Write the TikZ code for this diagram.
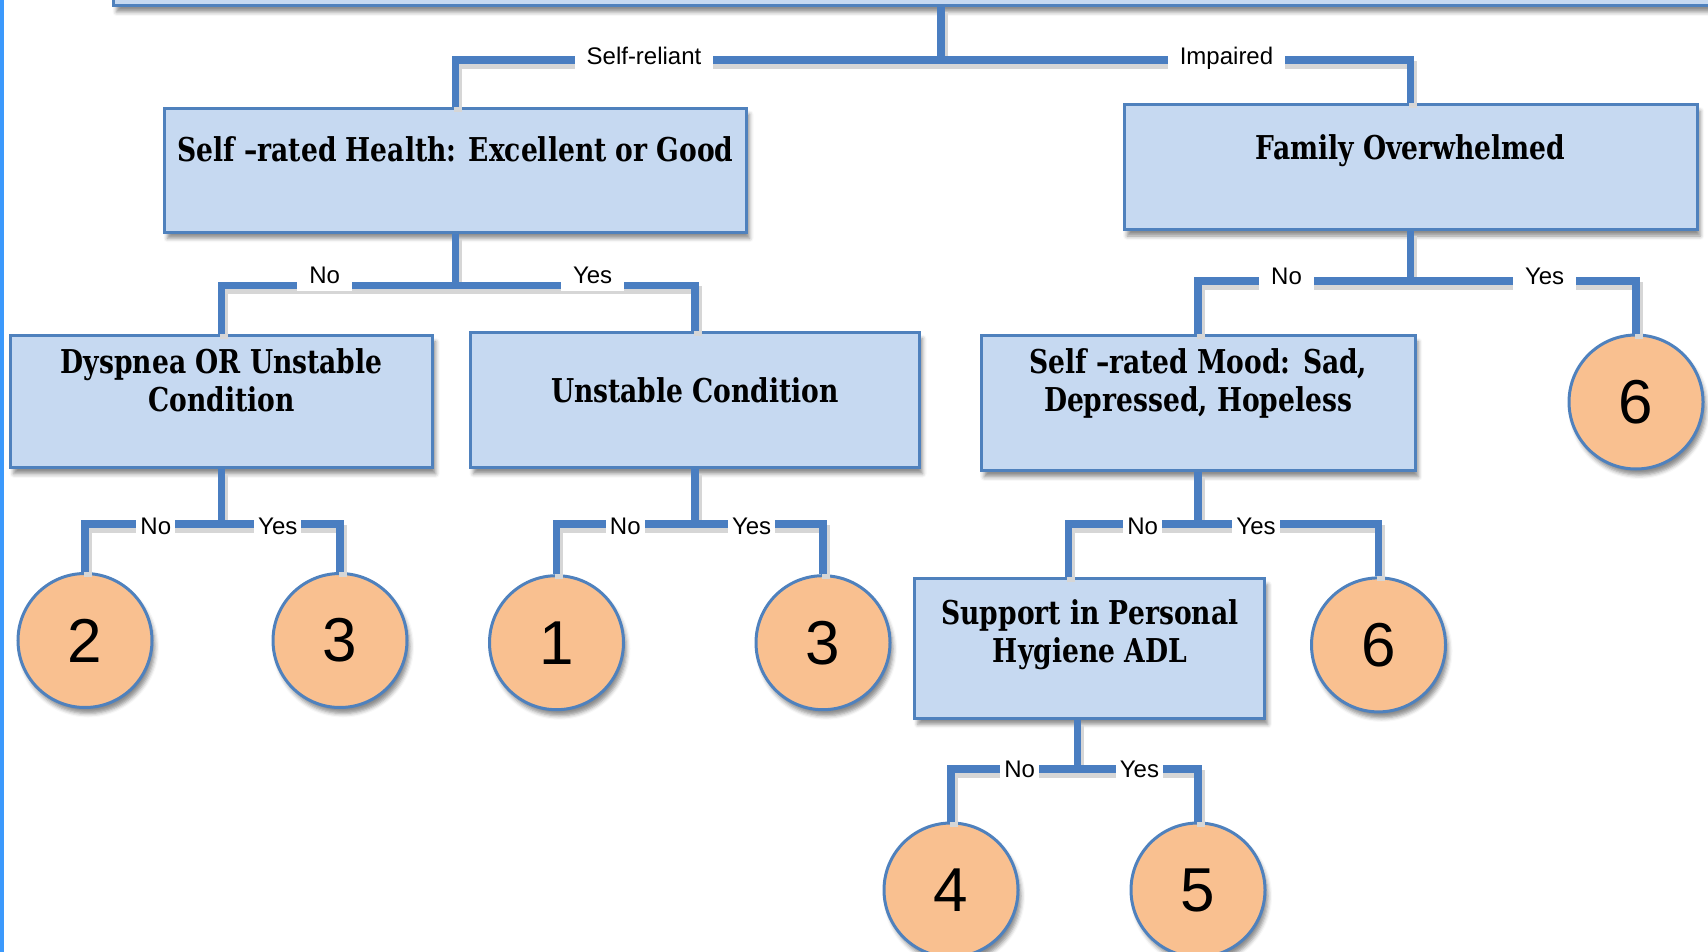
\documentclass[tikz,border=0pt]{standalone}
\usepackage{fontspec}
\setmainfont{Liberation Sans}
\newfontfamily\boxfont{DejaVu Serif Condensed}[FakeStretch=0.9]
\usetikzlibrary{positioning, calc, shadows, shadows.blur}
\definecolor{boxfill}{RGB}{198,217,241}
\definecolor{boxedge}{RGB}{79,129,189}
\definecolor{linkblue}{RGB}{74,126,193}
\definecolor{peach}{RGB}{249,192,144}
\definecolor{edgeblue}{RGB}{59,153,252}
\newcommand{\branch}[1]{\draw[linkshadow] #1; \draw[link] #1;}
\tikzset{
  block/.style={draw=boxedge, line width=3pt, fill=boxfill, inner sep=0pt,
    blur shadow={shadow xshift=3pt, shadow yshift=-6pt, shadow blur radius=4pt, shadow opacity=45}},
  boxtext/.style={font=\boxfont\bfseries\fontsize{32.8}{38}\selectfont, align=center, inner sep=0pt},
  leaf/.style={circle, draw=boxedge, line width=3pt, fill=peach, minimum size=134pt, inner sep=0pt,
    font=\fontsize{62}{62}\selectfont,
    blur shadow={shadow xshift=3pt, shadow yshift=-6pt, shadow blur radius=4pt, shadow opacity=45}},
  link/.style={draw=linkblue, line width=7.5pt},
  linkshadow/.style={draw=black!16, line width=8pt, transform canvas={shift={(2.5pt,-5pt)}}},
  answer/.style={fill=white, inner xsep=12pt, inner ysep=8pt, text height=17.5pt, text depth=0pt,
    font=\fontsize{24}{24}\selectfont},
  shortanswer/.style={answer, inner xsep=4pt}
}
\begin{document}
\begin{tikzpicture}[x=1pt, y=-1pt]
    \useasboundingbox (0,0) rectangle (1708,952);
    \clip (0,0) rectangle (1708,952);
    \fill[edgeblue] (0,0) rectangle (3.5,952);

    % question boxes
    \node[block, anchor=south west, minimum width=1700pt, minimum height=80pt] (root) at (112,7.5) {};
    \node[block, anchor=north, minimum width=582pt, minimum height=124pt] (health) at (455.5,106.8) {};
    \node[block, anchor=north, minimum width=573pt, minimum height=125pt] (family) at (1410.6,103.5) {};
    \node[block, anchor=north, minimum width=422pt, minimum height=132pt] (dyspnea) at (221.7,334.4) {};
    \node[block, anchor=north, minimum width=449pt, minimum height=135pt] (unstable) at (695,331.2) {};
    \node[block, anchor=north, minimum width=434pt, minimum height=135pt] (mood) at (1198.2,334.4) {};
    \node[block, anchor=north, minimum width=350pt, minimum height=139.5pt] (support) at (1089.9,577.3) {};

    \node[boxtext] (healthtxt) at ([yshift=-42.4pt]health.north) {Self –rated Health: Excellent or Good};
    \node[boxtext] (familytxt) at ([yshift=-47.6pt]family.north) {Family Overwhelmed};
    \node[boxtext] (dyspneatxt) at ([yshift=-46.3pt]dyspnea.north) {Dyspnea OR Unstable\\Condition};
    \node[boxtext] (unstabletxt) at ([yshift=-58.8pt]unstable.north) {Unstable Condition};
    \node[boxtext] (moodtxt) at ([yshift=-49.3pt]mood.north) {Self –rated Mood: Sad,\\Depressed, Hopeless};
    \node[boxtext] (supporttxt) at ([yshift=-57.3pt]support.north) {Support in Personal\\Hygiene ADL};

    % outcome groups
    \node[leaf] (two) at (85,640.5) {2};
    \node[leaf] (threea) at (340,640.5) {3};
    \node[leaf] (one) at (556.5,642.7) {1};
    \node[leaf] (threeb) at (823,642.7) {3};
    \node[leaf] (sixa) at (1636,402) {6};
    \node[leaf] (sixb) at (1378.5,644.9) {6};
    \node[leaf] (four) at (951,890) {4};
    \node[leaf] (five) at (1198,890) {5};

    % forks
    \coordinate (rootfork) at (941,60);
    \coordinate (healthfork) at (health.south |- 0,285.4);
    \coordinate (familyfork) at (family.south |- 0,281);
    \coordinate (dyspneafork) at (dyspnea.south |- 0,524);
    \coordinate (unstablefork) at (unstable.south |- 0,524);
    \coordinate (moodfork) at (mood.south |- 0,524);
    \coordinate (supportfork) at (1077.3,769);

    \branch{(rootfork |- root.south) -- (rootfork)}
    \branch{(health.north) |- (rootfork) -| (family.north)}
    \branch{(health.south) -- (healthfork)}
    \branch{(dyspnea.north) |- (healthfork) -| (unstable.north)}
    \branch{(family.south) -- (familyfork)}
    \branch{(mood.north) |- (familyfork) -| (sixa.north)}
    \branch{(dyspnea.south) -- (dyspneafork)}
    \branch{(two.north) |- (dyspneafork) -| (threea.north)}
    \branch{(unstable.south) -- (unstablefork)}
    \branch{(one.north) |- (unstablefork) -| (threeb.north)}
    \branch{(mood.south) -- (moodfork)}
    \branch{([xshift=-21.3pt]support.north) |- (moodfork) -| (sixb.north)}
    \branch{(supportfork |- support.south) -- (supportfork)}
    \branch{(four.north) |- (supportfork) -| (five.north)}

    % branch labels
    \node[answer] (selfreliant) at (644,55.5) {Self-reliant};
    \node[answer] (impaired) at (1226.5,55.5) {Impaired};
    \node[answer] (healthno) at (324.6,274.5) {No};
    \node[answer] (healthyes) at (592.6,274.5) {Yes};
    \node[answer] (familyno) at (1286.5,275.6) {No};
    \node[answer] (familyyes) at (1544.6,275.6) {Yes};
    \node[shortanswer] (dyspneano) at (155.8,526) {No};
    \node[shortanswer] (dyspneayes) at (277.8,526) {Yes};
    \node[shortanswer] (unstableno) at (625.3,526) {No};
    \node[shortanswer] (unstableyes) at (751.6,526) {Yes};
    \node[shortanswer] (moodno) at (1142.7,526) {No};
    \node[shortanswer] (moodyes) at (1256,526) {Yes};
    \node[shortanswer] (supportno) at (1019.6,769) {No};
    \node[shortanswer] (supportyes) at (1139.4,769) {Yes};
\end{tikzpicture}
\end{document}
